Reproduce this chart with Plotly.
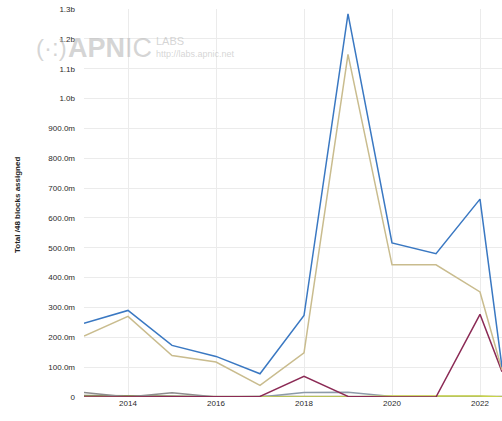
import plotly.graph_objects as go

years = [2013, 2014, 2015, 2016, 2017, 2018, 2019, 2020, 2021, 2022, 2022.5]

# values in millions of /48 blocks
total = [247, 290, 173, 136, 78, 273, 1284, 516, 480, 663, 100]
series_tan = [204, 270, 139, 117, 39, 148, 1148, 443, 443, 352, 90]
series_maroon = [0, 0, 0, 0, 2, 69, 2, 0, 0, 277, 85]
series_grey = [15, 0, 14, 0, 2, 0, 0, 0, 0, 0, 0]
series_slate = [0, 0, 0, 0, 0, 15, 16, 2, 0, 0, 0]
series_olive = [5, 3, 3, 2, 2, 2, 2, 2, 2, 2, 2]
series_lime = [0, 0, 0, 0, 0, 0, 0, 3, 3, 3, 0]

ytick_vals = [0, 100, 200, 300, 400, 500, 600, 700, 800, 900, 1000, 1100, 1200, 1300]
ytick_text = ["0", "100.0m", "200.0m", "300.0m", "400.0m", "500.0m", "600.0m",
              "700.0m", "800.0m", "900.0m", "1.0b", "1.1b", "1.2b", "1.3b"]
xtick_vals = [2014, 2016, 2018, 2020, 2022]
xtick_text = ["2014", "2016", "2018", "2020", "2022"]

series = [
    (series_olive, "#8a8a60", 1.5),
    (series_grey, "#8c8c8c", 1.5),
    (series_slate, "#8c9aa8", 1.5),
    (series_lime, "#c8d44a", 1.5),
    (series_maroon, "#8b2a55", 1.5),
    (series_tan, "#c9bc8e", 1.5),
    (total, "#3a78c2", 1.5),
]

fig = go.Figure()
for vals, color, w in series:
    fig.add_trace(go.Scatter(x=years, y=[v * 1e6 for v in vals], mode="lines",
                             line=dict(color=color, width=w), showlegend=False))

fig.update_layout(
    width=502, height=421,
    margin=dict(l=84, r=0, t=9, b=24, autoexpand=False),
    paper_bgcolor="white", plot_bgcolor="white",
    font=dict(family="Liberation Sans, Arial, sans-serif", size=8, color="#444444"),
    xaxis=dict(range=[2013, 2022.5], tickvals=xtick_vals, ticktext=xtick_text,
               showgrid=True, gridcolor="#ebebeb", gridwidth=1, zeroline=False,
               showline=False, ticks="", automargin=False, ticklabeloverflow="allow",
               tickfont=dict(size=8, color="#2a2a2a")),
    yaxis=dict(range=[0, 1.3e9], tickvals=[v * 1e6 for v in ytick_vals], ticktext=ytick_text,
               showgrid=True, gridcolor="#ebebeb", gridwidth=1, zeroline=False,
               showline=False, ticks="", ticklabelstandoff=8, automargin=False,
               ticklabeloverflow="allow",
               tickfont=dict(size=8, color="#2a2a2a")),
)

def px(x):
    return (x - 84) / 418.0

def py(y):
    return (397 - y) / 388.0

# y-axis title
fig.add_annotation(xref="paper", yref="paper", x=px(17), y=py(205), xanchor="center", yanchor="middle",
                   text="<b>Total /48 blocks assigned</b>", textangle=-90, showarrow=False,
                   font=dict(size=8, color="#222222"))

# watermark
wm = "rgba(185,185,185,0.6)"
fig.add_annotation(xref="paper", yref="paper", x=px(34), y=py(48), xanchor="left", yanchor="middle",
                   text="(·:)", showarrow=False,
                   font=dict(size=24, color=wm, family="Liberation Sans"))
fig.add_annotation(xref="paper", yref="paper", x=px(66), y=py(48), xanchor="left", yanchor="middle",
                   text="<b>APN</b>IC", showarrow=False,
                   font=dict(size=27, color=wm, family="Liberation Sans"))
fig.add_annotation(xref="paper", yref="paper", x=px(154), y=py(41), xanchor="left", yanchor="middle",
                   text="LABS", showarrow=False,
                   font=dict(size=11, color=wm, family="Liberation Sans"))
fig.add_annotation(xref="paper", yref="paper", x=px(154), y=py(54), xanchor="left", yanchor="middle",
                   text="http://labs.apnic.net", showarrow=False,
                   font=dict(size=9, color=wm, family="Liberation Sans"))

fig.write_html(
    "out.html",
    config={"displayModeBar": False},
    post_script="document.body.style.margin='0';document.body.style.overflow='hidden';"
                "document.documentElement.style.overflow='hidden';",
)
